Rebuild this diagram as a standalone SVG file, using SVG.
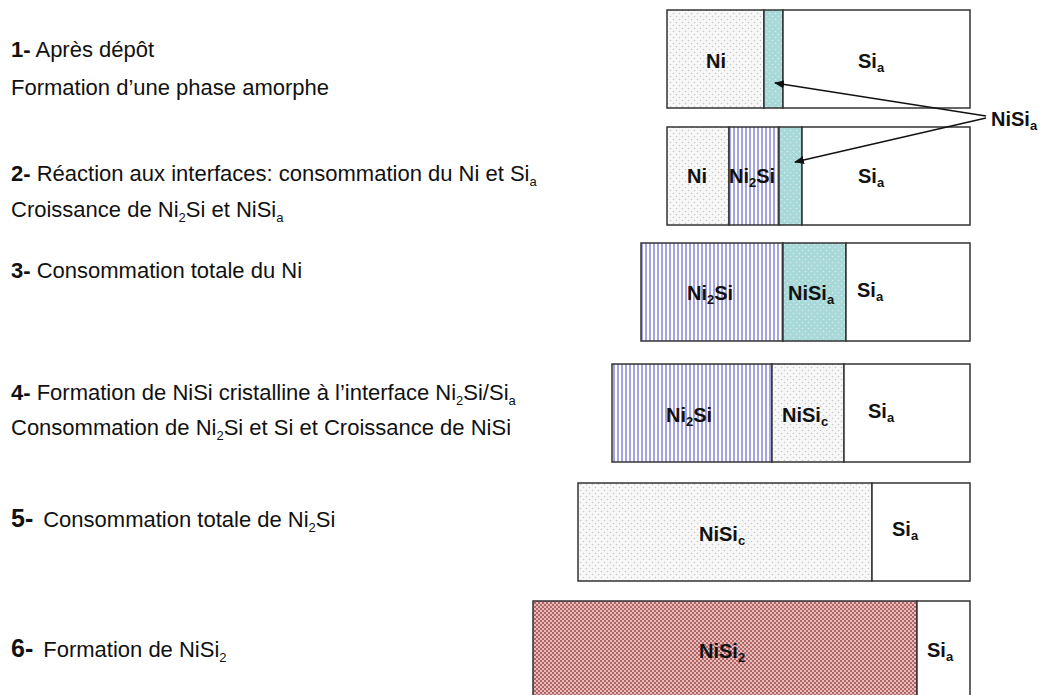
<svg xmlns="http://www.w3.org/2000/svg" width="1047" height="695" viewBox="0 0 1047 695">
<style>
.t{font-family:"Liberation Sans",Arial,sans-serif;font-size:22px;fill:#111}
.n{font-weight:bold}
.big{font-size:25px}
.l{font-family:"Liberation Sans",Arial,sans-serif;font-size:20px;font-weight:bold;fill:#111}
.s{font-size:13px}
.b{stroke:#333;stroke-width:1.5}
.c{stroke:#111;stroke-width:1.3;fill:none;marker-end:url(#ah)}
</style>
<defs>
<pattern id="dots" width="6" height="6" patternUnits="userSpaceOnUse"><rect width="6" height="6" fill="#f8f8f8"/><circle cx="1.5" cy="1.5" r="0.8" fill="#c8c8c8"/><circle cx="4.5" cy="4.5" r="0.8" fill="#c8c8c8"/></pattern>
<pattern id="teal" width="6" height="6" patternUnits="userSpaceOnUse"><rect width="6" height="6" fill="#a8d8d8"/><circle cx="1.5" cy="1.5" r="0.8" fill="#d2eded"/><circle cx="4.5" cy="4.5" r="0.8" fill="#d2eded"/></pattern>
<pattern id="stripe" width="4" height="4" patternUnits="userSpaceOnUse"><rect width="4" height="4" fill="#ffffff"/><rect x="1" width="2" height="4" fill="#a4a4e4"/></pattern>
<pattern id="check" width="4" height="4" patternUnits="userSpaceOnUse"><rect width="4" height="4" fill="#e8bcbc"/><rect width="2" height="2" fill="#b06464"/><rect x="2" y="2" width="2" height="2" fill="#b06464"/></pattern>
<marker id="ah" markerWidth="10" markerHeight="8" refX="9" refY="4" orient="auto" markerUnits="userSpaceOnUse"><path d="M0,0 L10,4 L0,8 z" fill="#111"/></marker>
</defs>
<rect width="1047" height="695" fill="#fff"/>

<g id="text-1">
<text class="t" x="11" y="57"><tspan class="n">1-</tspan> Après dépôt</text>
<text class="t" x="11" y="95">Formation d’une phase amorphe</text>
</g>
<g id="text-2">
<text class="t" x="11" y="181"><tspan class="n">2-</tspan> Réaction aux interfaces: consommation du Ni et Si<tspan class="s" dy="5">a</tspan></text>
<text class="t" x="11" y="217">Croissance de Ni<tspan class="s" dy="5">2</tspan><tspan dy="-5">Si et NiSi</tspan><tspan class="s" dy="5">a</tspan></text>
</g>
<g id="text-3">
<text class="t" x="11" y="278"><tspan class="n">3-</tspan> Consommation totale du Ni</text>
</g>
<g id="text-4">
<text class="t" x="11" y="400"><tspan class="n">4-</tspan> Formation de NiSi cristalline à l’interface Ni<tspan class="s" dy="5">2</tspan><tspan dy="-5">Si/Si</tspan><tspan class="s" dy="5">a</tspan></text>
<text class="t" x="11" y="435">Consommation de Ni<tspan class="s" dy="5">2</tspan><tspan dy="-5">Si et Si et Croissance de NiSi</tspan></text>
</g>
<g id="text-5">
<text class="t" x="11" y="527"><tspan class="n big">5-</tspan><tspan dx="10">Consommation totale de Ni</tspan><tspan class="s" dy="5">2</tspan><tspan dy="-5">Si</tspan></text>
</g>
<g id="text-6">
<text class="t" x="11" y="657"><tspan class="n big">6-</tspan><tspan dx="10">Formation de NiSi</tspan><tspan class="s" dy="5">2</tspan></text>
</g>

<g id="stack-1">
<rect class="b" x="667" y="10" width="97" height="98" fill="url(#dots)"/>
<rect class="b" x="764" y="10" width="19" height="98" fill="url(#teal)"/>
<rect class="b" x="783" y="10" width="187" height="98" fill="#fff"/>
<text class="l" x="706" y="68">Ni</text>
<text class="l" x="858" y="68">Si<tspan class="s" dy="4">a</tspan></text>
</g>
<g id="stack-2">
<rect class="b" x="667" y="127" width="62" height="98" fill="url(#dots)"/>
<rect class="b" x="729" y="127" width="50" height="98" fill="url(#stripe)"/>
<rect class="b" x="779" y="127" width="23" height="98" fill="url(#teal)"/>
<rect class="b" x="802" y="127" width="168" height="98" fill="#fff"/>
<text class="l" x="687" y="183">Ni</text>
<text class="l" x="729" y="183">Ni<tspan class="s" dy="4">2</tspan><tspan dy="-4">Si</tspan></text>
<text class="l" x="858" y="183">Si<tspan class="s" dy="4">a</tspan></text>
</g>
<g id="stack-3">
<rect class="b" x="641" y="243" width="142" height="98" fill="url(#stripe)"/>
<rect class="b" x="783" y="243" width="63" height="98" fill="url(#teal)"/>
<rect class="b" x="846" y="243" width="124" height="98" fill="#fff"/>
<text class="l" x="687" y="300">Ni<tspan class="s" dy="4">2</tspan><tspan dy="-4">Si</tspan></text>
<text class="l" x="788" y="300">NiSi<tspan class="s" dy="4">a</tspan></text>
<text class="l" x="857" y="297">Si<tspan class="s" dy="4">a</tspan></text>
</g>
<g id="stack-4">
<rect class="b" x="612" y="364" width="160" height="98" fill="url(#stripe)"/>
<rect class="b" x="772" y="364" width="72" height="98" fill="url(#dots)"/>
<rect class="b" x="844" y="364" width="126" height="98" fill="#fff"/>
<text class="l" x="666" y="422">Ni<tspan class="s" dy="4">2</tspan><tspan dy="-4">Si</tspan></text>
<text class="l" x="782" y="422">NiSi<tspan class="s" dy="4">c</tspan></text>
<text class="l" x="868" y="418">Si<tspan class="s" dy="4">a</tspan></text>
</g>
<g id="stack-5">
<rect class="b" x="578" y="483" width="294" height="98" fill="url(#dots)"/>
<rect class="b" x="872" y="483" width="98" height="98" fill="#fff"/>
<text class="l" x="699" y="541">NiSi<tspan class="s" dy="4">c</tspan></text>
<text class="l" x="892" y="536">Si<tspan class="s" dy="4">a</tspan></text>
</g>
<g id="stack-6">
<rect class="b" x="533" y="601" width="384" height="98" fill="url(#check)"/>
<rect class="b" x="917" y="601" width="53" height="98" fill="#fff"/>
<text class="l" x="699" y="658">NiSi<tspan class="s" dy="4">2</tspan></text>
<text class="l" x="927" y="657">Si<tspan class="s" dy="4">a</tspan></text>
</g>

<g id="label-nisia">
<text class="l" x="991" y="126">NiSi<tspan class="s" dy="4">a</tspan></text>
</g>
<g id="connectors">
<path class="c" d="M986,116 L775,83"/>
<path class="c" d="M986,118 L795,162"/>
</g>
</svg>
